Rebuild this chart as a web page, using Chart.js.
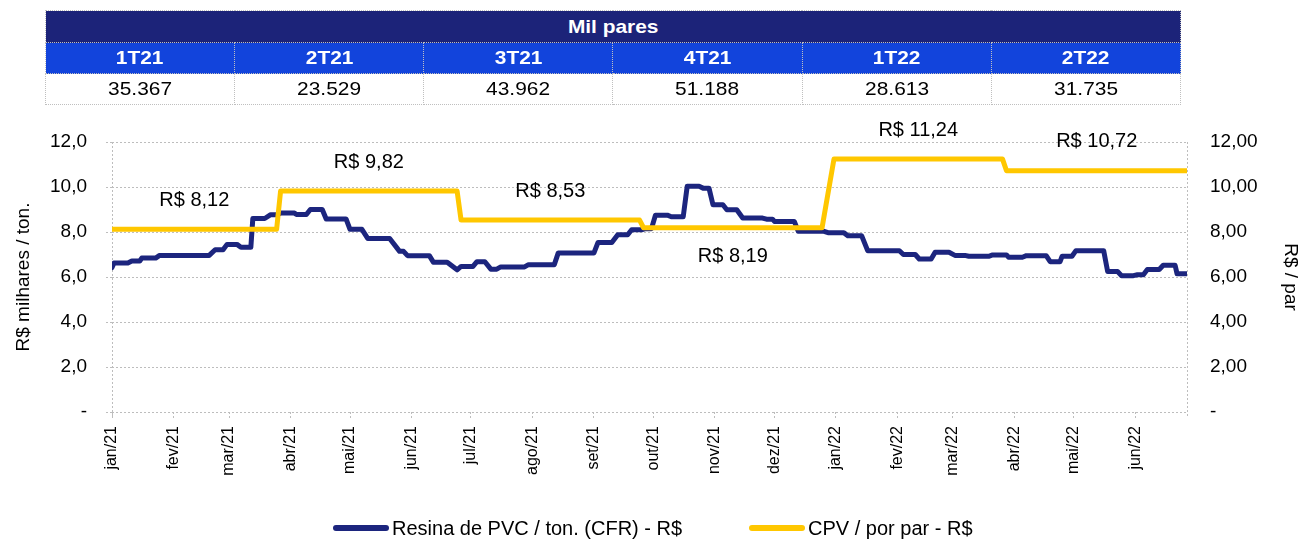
<!DOCTYPE html>
<html><head><meta charset="utf-8">
<script src="https://cdn.jsdelivr.net/npm/chart.js@4.4.1/dist/chart.umd.min.js"></script>
<style>
html,body{margin:0;padding:0;background:#fff;}
body{width:1309px;height:543px;position:relative;overflow:hidden;font-family:"Liberation Sans",Arial,sans-serif;}
#chart{position:absolute;left:0;top:0;}
#tbl{position:absolute;left:45px;top:10px;width:1136px;border-collapse:collapse;table-layout:fixed;z-index:2;}
#tbl td{border:1px dotted #bfbfbf;text-align:center;padding:0;font-size:19px;line-height:20px;}
#tbl tr.h1 td{background:#1c2379;color:#fff;font-weight:bold;height:31px;}
#tbl tr.h2 td{background:#1244dc;color:#fff;font-weight:bold;height:30px;}
#tbl tr.v td{background:#fff;color:#000;height:30px;}
#tbl td span{display:inline-block;transform:scaleX(1.1);}
.item{position:absolute;top:516px;height:24px;display:flex;align-items:center;font-size:20px;color:#000;white-space:nowrap;}
.sw{width:56px;height:6px;border-radius:3px;margin-right:3px;}
</style>
</head><body>
<canvas id="chart" width="1309" height="543"></canvas>
<table id="tbl"><tbody>
<tr class="h1"><td colspan="6"><span>Mil pares</span></td></tr>
<tr class="h2" id="qrow"></tr>
<tr class="v" id="vrow"></tr>
</tbody></table>
<div class="item" id="leg1" style="left:333px"><div class="sw" style="background:#1c257e"></div><span>Resina de PVC / ton. (CFR) - R$</span></div>
<div class="item" id="leg2" style="left:749px"><div class="sw" style="background:#ffc700"></div><span>CPV / por par - R$</span></div>
<script>
// ---- Table data ----
const quarters = ['1T21','2T21','3T21','4T21','1T22','2T22'];
const milPares = [35367, 23529, 43962, 51188, 28613, 31735];

// ---- Axis tick data (days since 01/01/2021) ----
const monthDays = [0,31,59,90,120,151,181,212,243,273,304,334,365,396,424,455,485,516];
const monthLabels = ['jan/21','fev/21','mar/21','abr/21','mai/21','jun/21','jul/21','ago/21','set/21','out/21','nov/21','dez/21','jan/22','fev/22','mar/22','abr/22','mai/22','jun/22'];
const lastDay = 542;
const yTicks = [0,2,4,6,8,10,12];

// ---- Resina de PVC / ton. (CFR) - R$ (R$ mil / ton.) ----
const pvcDay = [
  0, 1, 8, 10, 14, 15, 22, 24, 49, 52, 56, 58, 63, 65, 70,
  71, 77, 80, 83, 85, 92, 93, 98, 100, 106, 108, 118, 120, 126,
  129, 140, 145, 147, 149, 160, 162, 169, 174, 176, 182, 184, 188,
  191, 194, 196, 208, 210, 223, 225, 243, 245, 252, 255, 260, 262, 267,
  269, 272, 274, 280, 282, 288, 290, 296, 298, 301, 303, 308, 310, 315,
  318, 328, 330, 333, 334, 344, 346, 359, 361, 369, 371, 378, 381, 397,
  399, 405, 407, 413, 415, 422, 425, 430, 432, 442, 444, 451, 452, 459,
  461, 471, 473, 478, 479, 484, 486, 500, 502, 507, 509, 515, 517, 520,
  522, 528, 530, 536, 537, 542
];
const pvcValue = [
  6.42, 6.62, 6.62, 6.71, 6.71, 6.84, 6.84, 6.96, 6.96, 7.21, 7.21, 7.45, 7.45, 7.32, 7.32,
  8.60, 8.60, 8.77, 8.77, 8.84, 8.84, 8.78, 8.78, 9.00, 9.00, 8.58, 8.58, 8.12, 8.12,
  7.71, 7.71, 7.14, 7.14, 6.95, 6.95, 6.66, 6.66, 6.32, 6.47, 6.47, 6.68, 6.68,
  6.35, 6.35, 6.45, 6.45, 6.55, 6.55, 7.07, 7.07, 7.53, 7.53, 7.88, 7.88, 8.10, 8.10,
  8.15, 8.15, 8.75, 8.75, 8.68, 8.68, 10.03, 10.03, 9.95, 9.95, 9.21, 9.21, 8.99, 8.99,
  8.62, 8.62, 8.57, 8.57, 8.47, 8.47, 8.03, 8.03, 7.97, 7.97, 7.83, 7.83, 7.17, 7.17,
  7.00, 7.00, 6.80, 6.80, 7.10, 7.10, 6.96, 6.96, 6.92, 6.92, 6.98, 6.98, 6.88, 6.88,
  6.95, 6.95, 6.68, 6.68, 6.92, 6.92, 7.17, 7.17, 6.24, 6.24, 6.06, 6.06, 6.10, 6.10,
  6.33, 6.33, 6.52, 6.52, 6.14, 6.14
];

// ---- CPV / por par - R$ (one value per quarter) ----
const cpvValue = [8.12, 9.82, 8.53, 8.19, 11.24, 10.72];
const cpvStart = [0, 85, 176, 268, 364, 451];
const cpvEnd   = [83, 174, 266, 358, 449, 542];

// ---- build table ----
const fmtThousands = n => String(n).replace(/\B(?=(\d{3})+(?!\d))/g, '.');
document.getElementById('qrow').innerHTML = quarters.map(q => '<td><span>' + q + '</span></td>').join('');
document.getElementById('vrow').innerHTML = milPares.map(v => '<td><span>' + fmtThousands(v) + '</span></td>').join('');

// ---- build series points ----
const pvcPoints = pvcDay.map((d, i) => ({x: d, y: pvcValue[i]}));
const cpvPoints = [];
cpvValue.forEach((v, i) => { cpvPoints.push({x: cpvStart[i], y: v}); cpvPoints.push({x: cpvEnd[i], y: v}); });

const FONT = '"Liberation Sans", Arial, sans-serif';
const GRID = '#bdbdbd';

const cpvLabels = {
  id: 'cpvLabels',
  afterDatasetsDraw(chart, args, opts) {
    const {ctx, scales} = chart;
    const x = scales.x, y2 = scales.y2;
    ctx.save();
    ctx.font = '20px ' + FONT;
    ctx.fillStyle = '#000';
    ctx.textAlign = 'center';
    ctx.textBaseline = 'middle';
    cpvValue.forEach((v, i) => {
      const cx = x.getPixelForValue((cpvStart[i] + cpvEnd[i]) / 2);
      const cy = y2.getPixelForValue(v) + (opts.below[i] ? opts.offset : -opts.offset);
      ctx.fillText('R$ ' + v.toFixed(2).replace('.', ','), cx, cy);
    });
    ctx.restore();
  }
};

const frame = {
  id: 'frame',
  beforeDatasetsDraw(chart) {
    const {ctx, chartArea: a} = chart;
    ctx.save();
    ctx.strokeStyle = GRID;
    ctx.lineWidth = 1;
    ctx.setLineDash([2, 2]);
    [a.left, a.right].forEach(px => {
      const xx = Math.round(px) + 0.5;
      ctx.beginPath();
      ctx.moveTo(xx, a.top);
      ctx.lineTo(xx, a.bottom + 6);
      ctx.stroke();
    });
    ctx.restore();
  }
};

new Chart(document.getElementById('chart'), {
  type: 'line',
  data: {
    datasets: [
      {label: 'Resina de PVC / ton. (CFR) - R$', data: pvcPoints, yAxisID: 'y', borderColor: '#1c257e', backgroundColor: '#1c257e', borderWidth: 5, pointRadius: 0, tension: 0, borderJoinStyle: 'round', borderCapStyle: 'round', order: 1},
      {label: 'CPV / por par - R$', data: cpvPoints, yAxisID: 'y2', borderColor: '#ffc700', backgroundColor: '#ffc700', borderWidth: 5, pointRadius: 0, tension: 0, borderJoinStyle: 'round', order: 0}
    ]
  },
  options: {
    responsive: false,
    animation: false,
    layout: {padding: {top: 142, bottom: 31, left: 0, right: 0}},
    plugins: {
      legend: {display: false},
      tooltip: {enabled: false},
      cpvLabels: {below: [false, false, false, true, false, false], offset: 29}
    },
    scales: {
      x: {
        type: 'linear', min: 0, max: lastDay,
        afterBuildTicks: s => { s.ticks = monthDays.map(v => ({value: v})); },
        afterFit: s => { s.height = 100; s.paddingLeft = 0; s.paddingRight = 0; },
        ticks: {autoSkip: false, maxRotation: 90, minRotation: 90, padding: 8, color: '#000', font: {family: FONT, size: 16},
          callback: (v, i) => monthLabels[i]},
        grid: {drawOnChartArea: false, drawTicks: true, tickLength: 6, color: GRID, tickColor: GRID, tickBorderDash: [2, 2]},
        border: {display: false}
      },
      y: {
        position: 'left', min: 0, max: 12,
        afterBuildTicks: s => { s.ticks = yTicks.map(v => ({value: v})); },
        afterFit: s => { s.width = 112; s.paddingTop = 0; s.paddingBottom = 0; },
        ticks: {padding: 19, color: '#000', font: {family: FONT, size: 19},
          callback: v => v === 0 ? '-' : v.toFixed(1).replace('.', ',')},
        grid: {color: GRID, lineWidth: 1, tickLength: 6, tickColor: GRID, tickBorderDash: [2, 2]},
        border: {display: false, dash: [2, 2]},
        title: {display: true, text: 'R$ milhares / ton.', color: '#000', font: {family: FONT, size: 19}, padding: {top: 12, bottom: 0}}
      },
      y2: {
        position: 'right', min: 0, max: 12,
        afterBuildTicks: s => { s.ticks = yTicks.map(v => ({value: v})); },
        afterFit: s => { s.width = 122; s.paddingTop = 0; s.paddingBottom = 0; },
        ticks: {padding: 23, color: '#000', font: {family: FONT, size: 19},
          callback: v => v === 0 ? '-' : v.toFixed(2).replace('.', ',')},
        grid: {display: false, drawTicks: false},
        border: {display: false},
        title: {display: true, text: 'R$ / par', color: '#000', font: {family: FONT, size: 19}, padding: {top: 7, bottom: 0}}
      }
    }
  },
  plugins: [frame, cpvLabels]
});
</script>
</body></html>
